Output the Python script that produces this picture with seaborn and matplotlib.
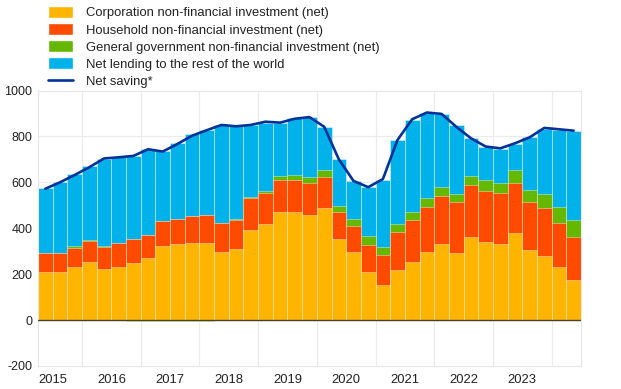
import numpy as np
import pandas as pd
import matplotlib
matplotlib.use("Agg")
import matplotlib.pyplot as plt
from matplotlib.patches import Patch
from matplotlib.lines import Line2D
import seaborn as sns

# quarterly data, 2015Q2 - 2024Q2, EUR billions (four-quarter sums)
quarters = [f"{y}Q{q}" for y in range(2015, 2025) for q in range(1, 5)][1:38]
year_labels = [str(y) for y in range(2015, 2024)]

corporations = [209, 209, 232, 254, 224, 232, 250, 269, 324, 333, 337, 337, 298, 309, 394, 417,
                470, 470, 459, 487, 354, 296, 209, 154, 216, 251, 296, 333, 291, 362, 341, 331,
                380, 304, 280, 231, 176]
households = [84, 83, 84, 90, 94, 103, 101, 103, 107, 108, 116, 119, 123, 128, 137, 136,
              141, 141, 137, 137, 116, 112, 118, 128, 166, 183, 195, 209, 223, 225, 221, 222,
              216, 210, 207, 194, 185]
government = [1, 1, 8, 5, 6, 2, -4, -4, -4, -4, -4, -4, 1, 4, 7, 11,
              16, 21, 26, 29, 28, 32, 40, 36, 35, 36, 40, 36, 35, 40, 47, 45,
              57, 53, 63, 68, 76]
net_lending = [283, 309, 314, 320, 378, 374, 364, 375, 304, 329, 356, 372, 428, 405, 311, 296,
               233, 250, 261, 189, 202, 165, 212, 294, 366, 402, 370, 320, 300, 168, 145, 148,
               114, 229, 284, 335, 387]
net_saving = [572, 600, 632, 666, 704, 709, 715, 744, 734, 767, 803, 827, 850, 844, 850, 864,
              860, 877, 884, 842, 700, 606, 579, 614, 785, 875, 904, 898, 842, 792, 756, 748,
              770, 796, 837, 831, 825]

C_CORP = "#FFB400"
C_HH = "#FF4B00"
C_GOV = "#65B800"
C_LEND = "#00B1EA"
C_SAV = "#003299"


def main():
    sns.set_theme(style="white")
    plt.rcParams["font.family"] = ["Liberation Sans", "DejaVu Sans"]
    plt.rcParams["axes.unicode_minus"] = False

    df = pd.DataFrame({
        "idx": np.arange(len(quarters)),
        "corp": corporations,
        "hh": households,
        "gov": government,
        "lend": net_lending,
        "saving": net_saving,
    })
    gov_pos = df["gov"].clip(lower=0)
    gov_neg = df["gov"].clip(upper=0)
    df["l1"] = df["corp"]
    df["l2"] = df["l1"] + df["hh"]
    df["l3"] = df["l2"] + gov_pos
    df["l4"] = df["l3"] + df["lend"]
    df["neg"] = gov_neg

    fig = plt.figure(figsize=(6.21, 3.89), dpi=100)
    ax = fig.add_axes([38 / 621, 1 - 366 / 389, 543 / 621, (366 - 90.5) / 389])

    # light grid behind bars
    for yv in range(-200, 1001, 200):
        ax.axhline(yv, color="#ebebeb", lw=0.8, zorder=0)
    for k in range(9):
        ax.axvline(2.5 + 4 * k, color="#ebebeb", lw=0.8, zorder=0)

    edge = (1, 1, 1, 0.45)
    for col, colr in [("l4", C_LEND), ("l3", C_GOV), ("l2", C_HH), ("l1", C_CORP), ("neg", C_GOV)]:
        sns.barplot(data=df, x="idx", y=col, color=colr, width=1.0, saturation=1,
                    edgecolor=edge, linewidth=0.6, ax=ax, zorder=2)

    sns.lineplot(data=df, x="idx", y="saving", color=C_SAV, lw=1.9, ax=ax, zorder=4)
    ax.axhline(0, color="#4a4030", lw=1.0, zorder=3)

    ax.set_xlim(-0.5, len(quarters) - 0.5)
    ax.set_ylim(-200, 1000)
    ax.set_yticks(range(-200, 1001, 200))
    ax.set_xlabel("")
    ax.set_ylabel("")
    ax.tick_params(axis="y", length=0, labelsize=9, colors="#222222", pad=4)

    # ticks: years at boundaries (longer), quarters short
    ax.set_xticks([2.5 + 4 * k for k in range(9)])
    ax.set_xticklabels([""] * 9)
    ax.set_xticks([i - 0.5 for i in range(len(quarters) + 1)], minor=True)
    ax.tick_params(axis="x", which="major", length=6, color="#e0e0e0", width=0.8)
    ax.tick_params(axis="x", which="minor", length=3, color="#e0e0e0", width=0.8)
    for k, lab in enumerate(year_labels):
        ax.text(0.5 + 4 * k, -0.028, lab, transform=ax.get_xaxis_transform(),
                ha="center", va="top", fontsize=9.4, color="#222222")

    for s in ax.spines.values():
        s.set_color("#e6e6e6")
        s.set_linewidth(0.8)

    handles = [
        Patch(facecolor=C_CORP, label="Corporation non-financial investment (net)"),
        Patch(facecolor=C_HH, label="Household non-financial investment (net)"),
        Patch(facecolor=C_GOV, label="General government non-financial investment (net)"),
        Patch(facecolor=C_LEND, label="Net lending to the rest of the world"),
        Line2D([0], [0], color=C_SAV, lw=1.9, label="Net saving*"),
    ]
    fig.legend(handles=handles, loc="upper left", bbox_to_anchor=(40 / 621, 1.005),
               frameon=False, fontsize=9.4, handlelength=1.9, handleheight=1.05,
               handletextpad=1.0, labelspacing=0.28, borderaxespad=0.2,
               labelcolor="#222222")

    fig.savefig("out.png", dpi=100)


if __name__ == "__main__":
    main()
